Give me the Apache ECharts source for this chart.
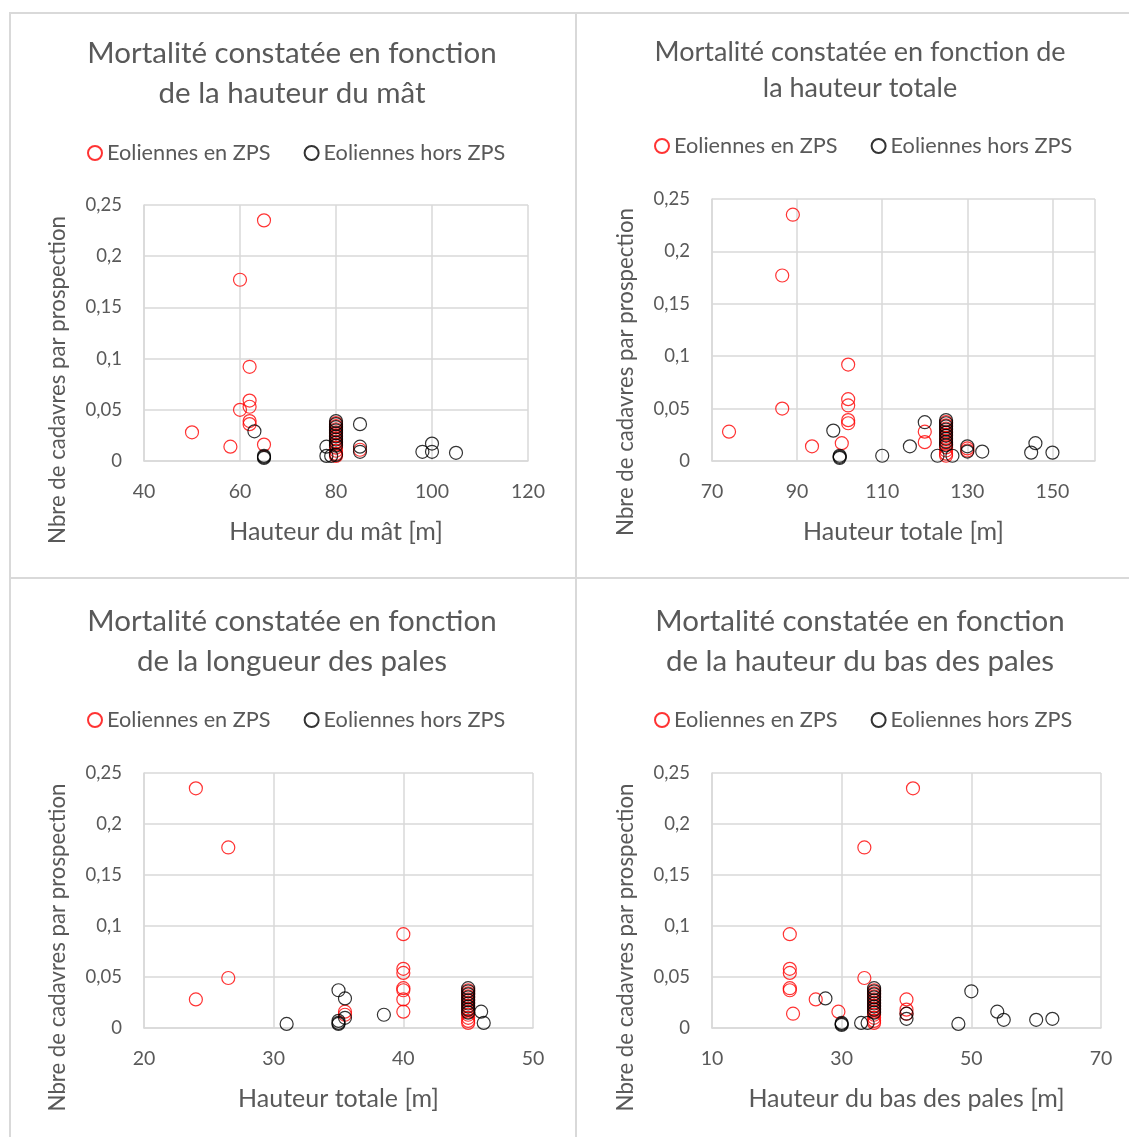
<!DOCTYPE html>
<html>
<head>
<meta charset="utf-8">
<script src="https://cdn.jsdelivr.net/npm/echarts@6/dist/echarts.min.js"></script>
<style>
html,body{margin:0;padding:0;background:#fff;}
#chart{width:1129px;height:1137px;}
</style>
</head>
<body>
<div id="chart"></div>
<script>
// ---------- DATA ----------
const titles = [
  "Mortalité constatée en fonction\nde la hauteur du mât",
  "Mortalité constatée en fonction de\nla hauteur totale",
  "Mortalité constatée en fonction\nde la longueur des pales",
  "Mortalité constatée en fonction\nde la hauteur du bas des pales"
];
const xNames = ["Hauteur du mât [m]", "Hauteur totale [m]", "Hauteur totale [m]", "Hauteur du bas des pales [m]"];
const yName = "Nbre de cadavres par prospection";
const seriesNames = ["Eoliennes en ZPS", "Eoliennes hors ZPS"];
const yTicks = [0, 0.05, 0.1, 0.15, 0.2, 0.25];
const xMins = [40, 70, 20, 10];
const xMaxs = [120, 160, 50, 70];
const xSteps = [20, 20, 10, 20];

// stacked column of turbines sharing the same dimensions
const stackX = [80, 125, 45, 35];
const stackRed = [0.037, 0.034, 0.031, 0.028, 0.025, 0.022, 0.019, 0.016, 0.013, 0.010, 0.007, 0.005];
const stackBlack = [0.039, 0.036, 0.033, 0.030, 0.027, 0.024, 0.021, 0.018, 0.015];

const mastRed = [[65,0.235],[60,0.177],[62,0.092],[62,0.059],[62,0.053],[60,0.050],[62,0.039],[62,0.036],[50,0.028],[58,0.014],[65,0.016],[85,0.011]];
const mastBlack = [[63,0.029],[65,0.005],[65,0.004],[65,0.003],[85,0.036],[85,0.014],[85,0.009],[78,0.014],[78,0.005],[79,0.005],[80,0.006],[98,0.009],[100,0.017],[100,0.009],[105,0.008]];

const totalRed = [[89,0.235],[86.5,0.177],[102,0.092],[102,0.059],[102,0.053],[86.5,0.050],[102,0.039],[102,0.036],[74,0.028],[93.5,0.014],[100.5,0.017],[120,0.028],[120,0.018],[130,0.012],[130,0.010]];
const totalBlack = [[98.5,0.029],[100,0.005],[100,0.004],[100,0.003],[110,0.005],[116.5,0.014],[120,0.037],[123,0.005],[126.5,0.005],[130,0.014],[130,0.009],[133.5,0.009],[145,0.008],[146,0.017],[150,0.008]];

const bladeRed = [[24,0.235],[26.5,0.177],[26.5,0.049],[24,0.028],[40,0.092],[40,0.058],[40,0.054],[40,0.039],[40,0.037],[40,0.028],[40,0.016],[35.5,0.016],[35.5,0.013]];
const bladeBlack = [[31,0.004],[35,0.037],[35.5,0.029],[35.5,0.010],[35,0.007],[35,0.005],[35,0.004],[38.5,0.013],[46,0.016],[46.2,0.005]];

const baseRed = [[41,0.235],[33.5,0.177],[22,0.092],[22,0.058],[22,0.054],[33.5,0.049],[22,0.039],[22,0.037],[26,0.028],[22.5,0.014],[29.5,0.016],[40,0.028],[40,0.018],[40,0.014]];
const baseBlack = [[27.5,0.029],[30,0.005],[30,0.004],[30,0.003],[33,0.005],[34,0.005],[40,0.014],[40,0.009],[48,0.004],[50,0.036],[54,0.016],[55,0.008],[60,0.008],[62.5,0.009]];

const redSets = [mastRed, totalRed, bladeRed, baseRed];
const blackSets = [mastBlack, totalBlack, bladeBlack, baseBlack];

// ---------- LAYOUT ----------
const FONT = "Lato";
const TXT = "#595959";
const GRID_C = "#d9d9d9";
const grids = [
  {left:144, top:205, width:384, height:256},
  {left:712, top:199, width:383, height:262},
  {left:144, top:773, width:389, height:255},
  {left:712, top:773, width:389, height:255}
];
const titlePos = [
  {x:287, y:28, size:29.5, lh:40},
  {x:855, y:29, size:27, lh:36},
  {x:287, y:596, size:29.5, lh:40},
  {x:855, y:596, size:29.5, lh:40}
];
const legendPos = [
  {x:87, y:142}, {x:654, y:135}, {x:87, y:709}, {x:654, y:709}
];
const yNameShift = [94, 84, 94, 94];

const option = {
  backgroundColor: "#ffffff",
  animation: false,
  textStyle: {fontFamily: FONT},
  title: titlePos.map((p, i) => ({
    text: titles[i], left: p.x, top: p.y, textAlign: "center",
    textStyle: {fontFamily: FONT, fontSize: p.size, fontWeight: "normal", color: TXT, lineHeight: p.lh}
  })),
  legend: legendPos.map(p => ({
    data: seriesNames, left: p.x, top: p.y, orient: "horizontal", padding: 0,
    itemWidth: 14, itemHeight: 14, itemGap: 33, selectedMode: false,
    textStyle: {fontFamily: FONT, fontSize: 21.7, color: TXT}
  })),
  grid: grids.map(g => Object.assign({containLabel: false}, g)),
  xAxis: grids.map((g, i) => ({
    type: "value", gridIndex: i, min: xMins[i], max: xMaxs[i], interval: xSteps[i],
    name: xNames[i], nameLocation: "middle", nameGap: 58,
    nameTextStyle: {fontFamily: FONT, fontSize: 25, color: TXT},
    axisLine: {show: true, lineStyle: {color: GRID_C, width: 1.5}},
    axisTick: {show: false},
    splitLine: {show: true, lineStyle: {color: GRID_C, width: 1.5}},
    axisLabel: {fontFamily: FONT, fontSize: 19.5, color: TXT, margin: 21, showMaxLabel: (xMaxs[i] - xMins[i]) % xSteps[i] === 0}
  })),
  yAxis: grids.map((g, i) => ({
    type: "value", gridIndex: i, min: yTicks[0], max: yTicks[yTicks.length - 1], interval: yTicks[1] - yTicks[0],
    name: yName, nameLocation: "middle", nameGap: 75,
    nameTextStyle: {fontFamily: FONT, fontSize: 22.2, color: TXT, padding: [0, yNameShift[i], 0, 0]},
    axisLine: {show: true, lineStyle: {color: GRID_C, width: 1.5}},
    axisTick: {show: false},
    splitLine: {show: true, lineStyle: {color: GRID_C, width: 1.5}},
    axisLabel: {fontFamily: FONT, fontSize: 18.5, color: TXT, margin: 22,
      formatter: v => String(+v.toFixed(2)).replace(".", ",")}
  })),
  series: [],
  graphic: [
    {type: "rect", shape: {x: 10, y: 13, width: 566, height: 565}, style: {fill: "none", stroke: GRID_C, lineWidth: 2}, silent: true, z: -1},
    {type: "rect", shape: {x: 576, y: 13, width: 560, height: 565}, style: {fill: "none", stroke: GRID_C, lineWidth: 2}, silent: true, z: -1},
    {type: "rect", shape: {x: 10, y: 578, width: 566, height: 570}, style: {fill: "none", stroke: GRID_C, lineWidth: 2}, silent: true, z: -1},
    {type: "rect", shape: {x: 576, y: 578, width: 560, height: 570}, style: {fill: "none", stroke: GRID_C, lineWidth: 2}, silent: true, z: -1}
  ]
};

for (let i = 0; i < 4; i++) {
  const red = redSets[i].concat(stackRed.map(v => [stackX[i], v]));
  const black = blackSets[i].concat(stackBlack.map(v => [stackX[i], v]));
  option.series.push({
    name: seriesNames[0], type: "scatter", xAxisIndex: i, yAxisIndex: i, data: red,
    symbol: "circle", symbolSize: 13,
    itemStyle: {color: "rgba(255,255,255,0)", borderColor: "#ff0000", borderWidth: 1.2}
  });
  option.series.push({
    name: seriesNames[1], type: "scatter", xAxisIndex: i, yAxisIndex: i, data: black,
    symbol: "circle", symbolSize: 13,
    itemStyle: {color: "rgba(255,255,255,0)", borderColor: "#000000", borderWidth: 1.2}
  });
}

const chart = echarts.init(document.getElementById("chart"), null, {renderer: "canvas"});
chart.setOption(option);
</script>
</body>
</html>
